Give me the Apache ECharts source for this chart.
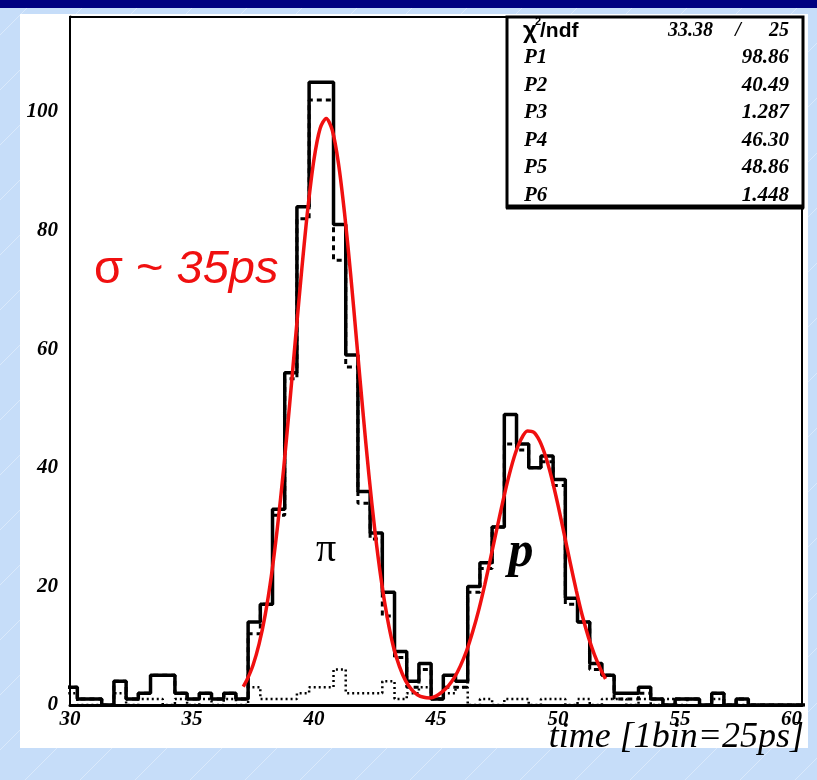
<!DOCTYPE html>
<html><head><meta charset="utf-8">
<script src="https://cdn.jsdelivr.net/npm/echarts@6/dist/echarts.min.js"></script>
<style>html,body{margin:0;padding:0;background:#c6ddf9}#c{width:817px;height:780px}</style>
</head><body><div id="c"></div><script>
// ---- data ----
const binStart = 29.8;          // left edge of first bin
const binWidth = 0.5;           // bin width
const mainCounts = [3,1,1,0,4,1,2,5,5,2, 1,2,1,2,1,14,17,33,56,84, 105,105,81,59,36,29,19,9,4,7, 1,5,4,20,24,30,49,44,40,42, 38,18,14,7,5,2,2,3,1,0, 1,1,0,2,0,1,0,0,0,0, 0];
const dashedCounts = [3,1,1,0,4,1,2,5,5,2, 1,2,1,2,1,12,17,32,55,82, 102,102,75,57,34,28,15,8,3,6, 1,3,3,19,23,30,44,43,40,41, 37,17,14,6,5,1,1,2,1,0, 1,1,0,2,0,1,0,0,0,0, 0];
const dottedCounts = [2,0,0,0,2,0,1,1,0,1, 0,1,0,1,0,3,1,1,1,2, 3,3,6,2,2,2,4,1,2,3, 1,2,3,0,1,0,1,1,0,1, 1,0,1,0,1,1,0,1,0,1, 0,1,0,1,0,0,0,0,0,0, 0];
const fitX = [37.1,37.25,37.5,37.75,38,38.25,38.5,38.75,39,39.25,39.5,39.75,40,40.25,40.5,40.75,41,41.25,41.5,41.75,42,42.25,42.5,42.75,43,43.25,43.5,43.75,44,44.25,44.5,44.75,45,45.25,45.5,45.75,46,46.25,46.5,46.75,47,47.25,47.5,47.75,48,48.25,48.5,48.75,49,49.25,49.5,49.75,50,50.25,50.5,50.75,51,51.25,51.5,51.75,51.95];
const fitY = [3.1,4.2,6.7,10.3,15.2,21.7,29.9,39.6,50.6,62.2,73.5,83.8,92.0,97.2,98.9,96.9,91.4,83.0,72.7,61.2,49.7,38.8,29.2,21.2,14.8,9.9,6.5,4.1,2.6,1.7,1.3,1.2,1.5,2.2,3.2,4.6,6.6,9.1,12.3,16.0,20.3,25.0,29.8,34.5,38.8,42.4,44.9,46.2,46.0,44.5,41.8,38.1,33.7,28.9,24.0,19.3,15.0,11.4,8.4,6.0,4.4];
const xTickLabels = [30,35,40,45,50,55,60];
const yTickLabels = [0,20,40,60,80,100];
const yMinorTicks = [5,10,15,25,30,35,45,50,55,65,70,75,85,90,95,105,110,115];
const statNames = ['P1','P2','P3','P4','P5','P6'];
const statValues = ['98.86','40.49','1.287','46.30','48.86','1.448'];
const chi2Value = '33.38';
const ndfValue = '25';

// ---- build ----
function histPoints(counts){
  const pts = [[binStart, 0]];
  counts.forEach((v,i)=>pts.push([binStart + i*binWidth, v]));
  pts.push([binStart + counts.length*binWidth, counts[counts.length-1]]);
  return pts;
}
const serifBI = {fontFamily:'Liberation Serif', fontStyle:'italic', fontWeight:'bold'};
const red = '#f01010';

const graphics = [];
// background stripes
for (let k=-800; k<900; k+=55){
  graphics.push({type:'line', z:0, shape:{x1:k, y1:780, x2:k+780, y2:0}, style:{stroke:'rgba(255,255,255,0.35)', lineWidth:1}});
}
graphics.push({type:'rect', z:0, shape:{x:0,y:0,width:817,height:8}, style:{fill:'#000080'}});
graphics.push({type:'rect', z:0, shape:{x:20,y:14,width:788,height:734}, style:{fill:'#ffffff'}});
// stats box
graphics.push({type:'rect', z:10, shape:{x:507,y:17,width:296,height:190}, style:{fill:'#fff', stroke:'#000', lineWidth:3}});
graphics.push({type:'line', z:11, shape:{x1:506,y1:207,x2:804,y2:207}, style:{stroke:'#000', lineWidth:5}});
graphics.push({type:'text', z:12, x:523, y:31, style:{text:'χ', font:'bold 24px "Liberation Sans"', fill:'#000', verticalAlign:'middle'}});
graphics.push({type:'text', z:12, x:535, y:22, style:{text:'2', font:'bold 11px "Liberation Sans"', fill:'#000', verticalAlign:'middle'}});
graphics.push({type:'text', z:12, x:540, y:31, style:{text:'/ndf', font:'bold 21px "Liberation Sans"', fill:'#000', verticalAlign:'middle'}});
graphics.push({type:'text', z:12, x:713, y:31, style:{text:chi2Value, font:'italic bold 20px "Liberation Serif"', fill:'#000', align:'right', verticalAlign:'middle'}});
graphics.push({type:'text', z:12, x:738, y:31, style:{text:'/', font:'italic bold 20px "Liberation Serif"', fill:'#000', align:'center', verticalAlign:'middle'}});
graphics.push({type:'text', z:12, x:789, y:31, style:{text:ndfValue, font:'italic bold 20px "Liberation Serif"', fill:'#000', align:'right', verticalAlign:'middle'}});
statNames.forEach((n,i)=>{
  const yy = 58 + i*27.5;
  graphics.push({type:'text', z:12, x:524, y:yy, style:{text:n, font:'italic bold 21px "Liberation Serif"', fill:'#000', verticalAlign:'middle'}});
  graphics.push({type:'text', z:12, x:789, y:yy, style:{text:statValues[i], font:'italic bold 21px "Liberation Serif"', fill:'#000', align:'right', verticalAlign:'middle'}});
});
// annotations
graphics.push({type:'text', z:12, x:94, y:270, style:{text:'{a|σ ~ }{b|35ps}', verticalAlign:'middle', rich:{a:{fontFamily:'Liberation Sans', fontSize:47, fill:red, color:red}, b:{fontFamily:'Liberation Sans', fontStyle:'italic', fontSize:47, fill:red, color:red}}}});
graphics.push({type:'text', z:12, x:326, y:550, style:{text:'π', font:'40px "Liberation Serif"', fill:'#000', align:'center', verticalAlign:'middle'}});
graphics.push({type:'text', z:12, x:521, y:553, style:{text:'p', font:'italic bold 50px "Liberation Serif"', fill:'#000', align:'center', verticalAlign:'middle'}});
graphics.push({type:'text', z:12, x:804, y:738, style:{text:'time [1bin=25ps]', font:'italic 36px "Liberation Serif"', fill:'#000', align:'right', verticalAlign:'middle'}});

const chart = echarts.init(document.getElementById('c'), null, {renderer:'canvas'});
chart.setOption({
  animation:false,
  backgroundColor:'#c6ddf9',
  graphic: graphics,
  grid:{left:70, top:17, width:732, height:688, show:true, borderColor:'#000', borderWidth:2, backgroundColor:'#fff', z:2},
  xAxis:{type:'value', min:xTickLabels[0], max:xTickLabels[xTickLabels.length-1], interval:5,
    axisLine:{lineStyle:{color:'#000', width:3}},
    axisTick:{inside:true, length:14, lineStyle:{color:'#000', width:2}},
    minorTick:{show:true, splitNumber:5, length:7, lineStyle:{color:'#000', width:2}},
    splitLine:{show:false},
    axisLabel:Object.assign({color:'#000', fontSize:21, margin:4, alignMaxLabel:'right'}, serifBI)},
  yAxis:[
    {type:'value', min:0, max:116, position:'left',
      axisLine:{show:true, lineStyle:{color:'#000', width:3}},
      axisTick:{show:true, inside:true, length:14, customValues:yTickLabels, lineStyle:{color:'#000', width:2}},
      axisLabel:Object.assign({color:'#000', fontSize:21, margin:12, customValues:yTickLabels}, serifBI),
      splitLine:{show:false}},
    {type:'value', min:0, max:116, position:'left',
      axisLine:{show:false},
      axisTick:{show:true, inside:true, length:7, customValues:yMinorTicks, lineStyle:{color:'#000', width:2}},
      axisLabel:{show:false}, splitLine:{show:false}}
  ],
  series:[
    {type:'line', step:'end', data:histPoints(dottedCounts), showSymbol:false, z:3,
      lineStyle:{color:'#000', width:2.5, type:[2,3]}},
    {type:'line', step:'end', data:histPoints(dashedCounts), showSymbol:false, z:4,
      lineStyle:{color:'#000', width:3, type:[5,4]}},
    {type:'line', step:'end', data:histPoints(mainCounts), showSymbol:false, z:5,
      lineStyle:{color:'#000', width:3.5}},
    {type:'line', data:fitX.map((x,i)=>[x, fitY[i]]), smooth:0.3, showSymbol:false, z:6,
      lineStyle:{color:red, width:3.5}}
  ]
});
</script></body></html>
